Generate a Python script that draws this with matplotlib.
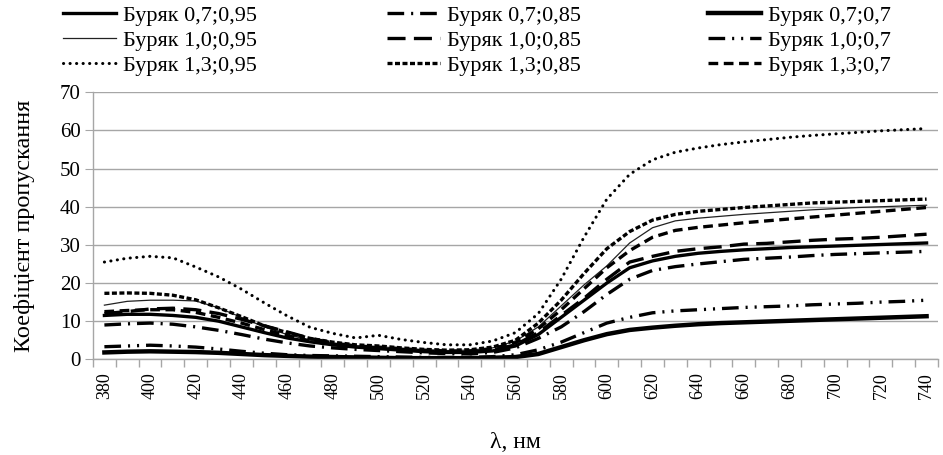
import matplotlib
matplotlib.use("Agg")
import matplotlib.pyplot as plt
from matplotlib.ticker import FixedLocator, MultipleLocator

plt.rcParams['font.family'] = ['Liberation Serif', 'DejaVu Serif']
plt.rcParams['lines.scale_dashes'] = False

wavelengths = [380, 390, 400, 410, 420, 430, 440, 450, 460, 470, 480, 490, 500,
               510, 520, 530, 540, 550, 560, 570, 580, 590, 600, 610, 620, 630,
               640, 650, 660, 670, 680, 690, 700, 710, 720, 730, 740]

b07_095 = [11.5, 11.8, 11.8, 11.5, 11.0, 10.0, 8.5, 7.0, 5.6, 4.6, 3.8, 3.2, 2.8,
           2.4, 2.0, 1.8, 1.8, 2.2, 3.5, 6.5, 11.0, 15.5, 20.0, 24.0, 25.8, 27.0,
           27.8, 28.3, 28.7, 29.0, 29.3, 29.5, 29.7, 29.9, 30.1, 30.3, 30.5]
b10_095 = [14.2, 15.2, 15.5, 15.5, 15.3, 13.5, 11.0, 8.5, 6.5, 5.0, 4.2, 3.6, 3.3,
           2.9, 2.5, 2.3, 2.4, 3.0, 4.8, 8.5, 14.0, 19.5, 24.5, 30.5, 34.5, 36.3,
           37.0, 37.5, 38.0, 38.4, 38.8, 39.2, 39.5, 39.8, 40.0, 40.2, 40.4]
b13_095 = [25.5, 26.5, 27.0, 26.6, 24.2, 21.6, 18.4, 14.8, 11.4, 8.4, 6.8, 5.6, 6.3,
           5.2, 4.4, 3.8, 3.8, 4.8, 7.0, 12.0, 21.0, 32.0, 42.0, 48.5, 52.3, 54.3,
           55.4, 56.3, 57.0, 57.6, 58.2, 58.7, 59.1, 59.5, 59.9, 60.2, 60.5]
b07_085 = [9.0, 9.3, 9.5, 9.2, 8.5, 7.6, 6.5, 5.3, 4.3, 3.5, 3.0, 2.6, 2.3,
           2.0, 1.7, 1.5, 1.4, 1.8, 3.0, 5.5, 8.5, 12.5, 17.0, 21.0, 23.3, 24.3,
           25.0, 25.6, 26.2, 26.5, 26.8, 27.2, 27.5, 27.7, 27.9, 28.1, 28.3]
b10_085 = [12.0, 12.5, 13.2, 13.4, 13.0, 12.0, 10.5, 8.8, 7.2, 5.5, 4.3, 3.5, 3.0,
           2.6, 2.2, 1.9, 1.9, 2.4, 3.8, 7.0, 11.5, 16.0, 21.0, 25.5, 27.0, 28.3,
           29.0, 29.5, 30.2, 30.4, 30.8, 31.2, 31.5, 31.7, 32.0, 32.4, 32.8]
b13_085 = [17.3, 17.4, 17.3, 16.8, 15.6, 13.5, 11.2, 8.8, 7.0, 5.5, 4.5, 3.8, 3.5,
           3.0, 2.6, 2.4, 2.5, 3.2, 5.0, 9.5, 15.5, 22.5, 29.0, 33.5, 36.5, 38.0,
           38.8, 39.3, 39.8, 40.2, 40.6, 41.0, 41.2, 41.4, 41.6, 41.8, 42.0]
b07_07 = [1.8, 2.0, 2.1, 2.0, 1.9, 1.7, 1.4, 1.1, 0.9, 0.7, 0.6, 0.5, 0.4,
          0.3, 0.3, 0.3, 0.3, 0.4, 0.6, 1.4, 3.2, 5.0, 6.6, 7.7, 8.3, 8.8,
          9.2, 9.5, 9.7, 9.9, 10.1, 10.3, 10.5, 10.7, 10.9, 11.1, 11.3]
b10_07 = [3.3, 3.5, 3.7, 3.5, 3.2, 2.7, 2.1, 1.6, 1.2, 1.0, 0.9, 0.8, 0.7,
          0.6, 0.5, 0.5, 0.5, 0.7, 1.2, 2.5, 4.5, 7.0, 9.5, 11.0, 12.2, 12.7,
          13.0, 13.3, 13.6, 13.8, 14.0, 14.3, 14.5, 14.7, 15.0, 15.2, 15.5]
b13_07 = [12.5, 12.8, 13.0, 13.0, 12.3, 11.0, 9.5, 7.8, 6.2, 4.8, 4.0, 3.5, 3.2,
          2.8, 2.4, 2.2, 2.2, 2.8, 4.3, 8.0, 13.0, 18.5, 24.0, 28.5, 32.0, 33.8,
          34.6, 35.2, 35.8, 36.3, 36.8, 37.3, 37.8, 38.3, 38.8, 39.3, 39.8]

labels = ["Буряк 0,7;0,95", "Буряк 1,0;0,95", "Буряк 1,3;0,95",
          "Буряк 0,7;0,85", "Буряк 1,0;0,85", "Буряк 1,3;0,85",
          "Буряк 0,7;0,7", "Буряк 1,0;0,7", "Буряк 1,3;0,7"]
series = [b07_095, b10_095, b13_095, b07_085, b10_085, b13_085, b07_07, b10_07, b13_07]
styles = [
    dict(lw=2.4, ls='-', color='black'),
    dict(lw=0.9, ls='-', color='#222222'),
    dict(lw=2.2, ls=(0, (0.1, 4.6)), color='black', dash_capstyle='round'),
    dict(lw=2.4, ls=(0, (12, 5, 1.5, 5)), color='black'),
    dict(lw=2.4, ls=(0, (13, 6)), color='black'),
    dict(lw=2.4, ls=(0, (3.6, 1.8)), color='black'),
    dict(lw=3.2, ls='-', color='black'),
    dict(lw=2.4, ls=(0, (12, 5, 1.5, 5, 1.5, 5)), color='black'),
    dict(lw=2.4, ls=(0, (7, 4)), color='black'),
]

fig = plt.figure(figsize=(9.43, 4.55), dpi=100)
ax = fig.add_axes([0.0986, 0.2103, 0.8961, 0.5868])

xs = list(range(len(wavelengths)))
handles = []
for ys, lab, st in zip(series, labels, styles):
    h, = ax.plot(xs, ys, label=lab, **st)
    handles.append(h)

ax.set_xlim(-0.5, len(wavelengths) - 0.5)
ax.set_ylim(0, 70)
ax.yaxis.set_major_locator(MultipleLocator(10))
ax.grid(axis='y', color='#a6a6a6', lw=1.0)
ax.set_axisbelow(True)
for s in ['top', 'right']:
    ax.spines[s].set_visible(False)
for s in ['left', 'bottom']:
    ax.spines[s].set_color('#a6a6a6')
    ax.spines[s].set_linewidth(1.0)

ax.set_xticks([i for i in xs if wavelengths[i] % 20 == 0])
ax.set_xticklabels([str(w) for w in wavelengths if w % 20 == 0], rotation=90, fontsize=13)
ax.xaxis.set_minor_locator(FixedLocator([i - 0.5 for i in range(len(wavelengths) + 1)]))
ax.tick_params(axis='x', which='major', length=0, pad=9)
ax.tick_params(axis='x', which='minor', length=6, color='#a6a6a6', width=1)
ax.tick_params(axis='y', length=6, color='#a6a6a6', labelsize=15, pad=3)

ax.set_xlabel("λ, нм", fontsize=17, labelpad=24)
ax.set_ylabel("Коефіцієнт пропускання", fontsize=17.5, labelpad=18)

# legend: three columns placed like the reference (rows are read across)
col_x = [63 / 943, 387 / 943, 708 / 943]
for c in range(3):
    fig.legend(handles=handles[3 * c:3 * c + 3], labels=labels[3 * c:3 * c + 3],
               loc='upper left', bbox_to_anchor=(col_x[c], 1.0 - 5 / 455),
               frameon=False, fontsize=16, handlelength=2.4, handletextpad=0.3,
               labelspacing=0.2, borderpad=0.0, borderaxespad=0.0)

fig.savefig("out.png", dpi=100)
